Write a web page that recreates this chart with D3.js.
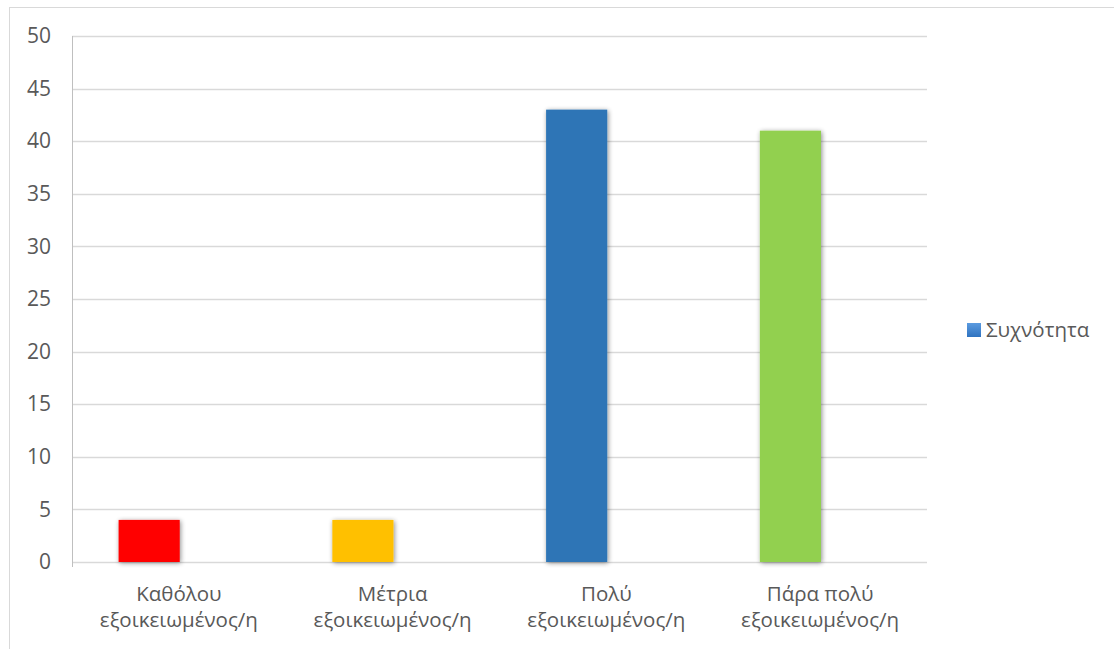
<!DOCTYPE html>
<html><head><meta charset="utf-8">
<script src="https://cdn.jsdelivr.net/npm/d3@7"></script>
<style>body{margin:0;background:#fff}text{font-family:"Open Sans","Noto Sans",sans-serif;fill:#595959}</style>
</head><body>
<svg id="c" width="1114" height="649"></svg>
<script>
const categoriesLine1 = ["Καθόλου", "Μέτρια", "Πολύ", "Πάρα πολύ"];
const categoriesLine2 = ["εξοικειωμένος/η", "εξοικειωμένος/η", "εξοικειωμένος/η", "εξοικειωμένος/η"];
const values = [4, 4, 43, 41];
const barColors = ["#ff0000", "#ffc000", "#2e75b6", "#92d050"];
const yTicks = [0, 5, 10, 15, 20, 25, 30, 35, 40, 45, 50];
const seriesName = "Συχνότητα";

const FS = "20.5px";
const svg = d3.select("#c");
const defs = svg.append("defs");
const f = defs.append("filter").attr("id","sh").attr("x","-30%").attr("y","-10%").attr("width","160%").attr("height","130%");
f.append("feGaussianBlur").attr("in","SourceAlpha").attr("stdDeviation",2.5).attr("result","b");
f.append("feOffset").attr("in","b").attr("dx",1).attr("dy",1).attr("result","o");
f.append("feComponentTransfer").attr("in","o").attr("result","o2").append("feFuncA").attr("type","linear").attr("slope",0.45);
const m = f.append("feMerge"); m.append("feMergeNode").attr("in","o2"); m.append("feMergeNode").attr("in","SourceGraphic");
const lg = defs.append("linearGradient").attr("id","lg").attr("x1",0).attr("y1",0).attr("x2",0).attr("y2",1);
lg.append("stop").attr("offset",0).attr("stop-color","#5b9be0");
lg.append("stop").attr("offset",1).attr("stop-color","#2f73c0");

svg.append("rect").attr("x",9.5).attr("y",7.5).attr("width",1200).attr("height",700).attr("fill","none").attr("stroke","#d9d9d9");

const L=72, R=927, T=36, B=562;
const x = d3.scaleBand().domain(categoriesLine1).range([L,R]);
const y = d3.scaleLinear().domain([0,50]).range([B,T]);

svg.append("g").selectAll("line").data(yTicks).join("line")
  .attr("x1",L).attr("x2",R).attr("y1",d=>Math.round(y(d))+0.5).attr("y2",d=>Math.round(y(d))+0.5)
  .attr("stroke","#d9d9d9").attr("stroke-width",1.5);
svg.append("line").attr("x1",L+0.5).attr("x2",L+0.5).attr("y1",T).attr("y2",B+5).attr("stroke","#bfbfbf");

const yAxis = d3.axisLeft(y).tickValues(yTicks).tickSize(0).tickPadding(0);
const ga = svg.append("g").attr("transform",`translate(${L-21},0)`).call(yAxis);
ga.select(".domain").remove();
ga.attr("font-size",null).attr("font-family",null);
ga.selectAll("text").style("font-size","21px").attr("fill","#595959");

svg.append("g").selectAll("rect").data(values).join("rect")
  .attr("x",(d,i)=>x(categoriesLine1[i])+x.bandwidth()*0.218)
  .attr("width",x.bandwidth()*0.286)
  .attr("y",d=>y(d)).attr("height",d=>B-y(d))
  .attr("fill",(d,i)=>barColors[i]).attr("filter","url(#sh)");

const xl = svg.append("g");
categoriesLine1.forEach((c,i)=>{
  const cx = x(c)+x.bandwidth()/2;
  const t = xl.append("text").attr("x",cx).attr("text-anchor","middle").style("font-size",FS);
  t.append("tspan").attr("x",cx).attr("y",601).text(c);
  t.append("tspan").attr("x",cx).attr("y",627).text(categoriesLine2[i]);
});

svg.append("rect").attr("x",967).attr("y",323).attr("width",14).attr("height",14).attr("fill","url(#lg)");
svg.append("text").attr("x",986).attr("y",337).style("font-size",FS).text(seriesName);
</script>
</body></html>
